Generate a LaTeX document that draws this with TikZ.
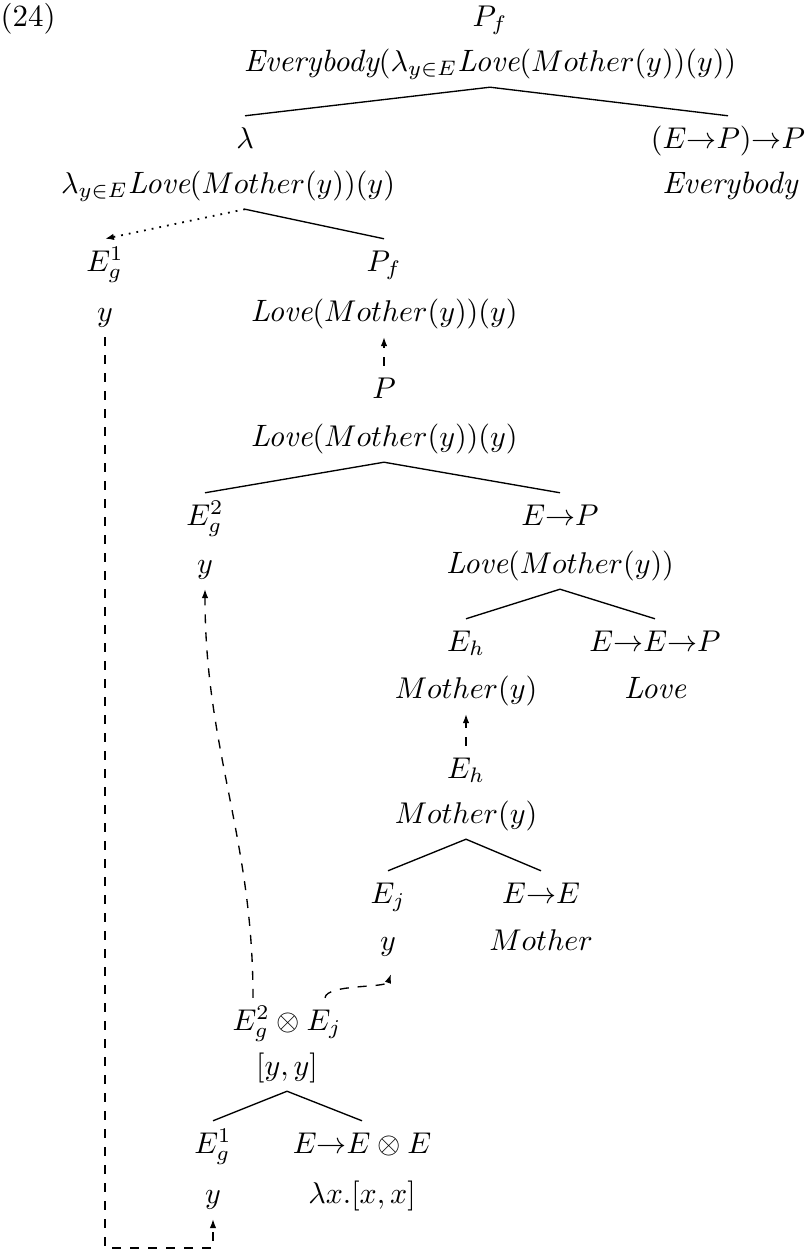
\documentclass[tikz,border=0pt]{standalone}
\usetikzlibrary{arrows.meta,calc}
\newcommand\Lv{\textit{Love}}
\newcommand\Eb{\textit{Everybody}}
\begin{document}
\begin{tikzpicture}[x=0.3333pt,y=0.3333pt,
  font=\fontsize{10.3}{12}\selectfont,
  lab/.style={inner xsep=0pt,inner ysep=4.3pt,outer sep=0pt,text height=1.5ex,text depth=.25ex},
  branch/.style={line width=0.45pt},
  tip/.style={-{Latex[length=3pt,width=2.2pt]}},
  dashline/.style={dashed,line width=0.45pt,tip},
  dotline/.style={dotted,line width=0.6pt,tip}]
\useasboundingbox (0,0) rectangle (809,-1254);
\node[anchor=west,inner sep=0pt,text height=1.5ex,text depth=.25ex] (num) at (0,-18) {(24)};
% top
\node[lab] (n1) at (490,-18) {$P_f$};
\node[lab] (n1t) at (490,-63) {$\Eb(\lambda_{y\in E}\Lv(Mother(y))(y))$};
\node[lab] (n2) at (245,-140) {$\lambda$};
\node[lab] (n2t) at (228,-185) {$\lambda_{y\in E}\Lv(Mother(y))(y)$};
\node[lab] (n3) at (728,-140) {$(E{\to}P){\to}P$};
\node[lab] (n3t) at (730,-185) {$\Eb$};
\node[lab] (n4) at (105,-263) {$E^1_g$};
\node[lab] (n4t) at (105,-313) {$y$};
\node[lab] (n5) at (384,-263) {$P_f$};
\node[lab] (n5t) at (384,-313) {$\Lv(Mother(y))(y)$};
\node[lab] (n6) at (384,-390) {$P$};
\node[lab] (n6t) at (384,-438) {$\Lv(Mother(y))(y)$};
\node[lab] (n7) at (205,-517) {$E^2_g$};
\node[lab] (n7t) at (205,-565) {$y$};
\node[lab] (n8) at (560,-517) {$E{\to}P$};
\node[lab] (n8t) at (560,-565) {$\Lv(Mother(y))$};
\node[lab] (n9) at (466,-643) {$E_h$};
\node[lab] (n9t) at (466,-690) {$Mother(y)$};
\node[lab] (n10) at (655,-643) {$E{\to}E{\to}P$};
\node[lab] (n10t) at (655,-690) {$\Lv$};
\node[lab] (n11) at (466,-770) {$E_h$};
\node[lab] (n11t) at (466,-815) {$Mother(y)$};
\node[lab] (n12) at (388,-895) {$E_j$};
\node[lab] (n12t) at (388,-942) {$y$};
\node[lab] (n13) at (541,-895) {$E{\to}E$};
\node[lab] (n13t) at (541,-942) {$Mother$};
\node[lab] (n14) at (287,-1022) {$E^2_g\otimes E_j$};
\node[lab] (n14t) at (287,-1067) {$[y,y]$};
\node[lab] (n15) at (213,-1145) {$E^1_g$};
\node[lab] (n15t) at (213,-1195) {$y$};
\node[lab] (n16) at (362,-1145) {$E{\to}E\otimes E$};
\node[lab] (n16t) at (362,-1195) {$\lambda x.[x,x]$};
% branches
\draw[branch] (n3.north) -- (n1t.south) -- (n2.north);
\draw[branch] (n2 |- n2t.south) -- (n5.north);
\draw[dotline] (n2 |- n2t.south) -- (n4.north);
\draw[branch] (n7.north) -- (n6t.south) -- (n8.north);
\draw[branch] (n9.north) -- (n8t.south) -- (n10.north);
\draw[branch] (n12.north) -- (n11t.south) -- (n13.north);
\draw[branch] (n15.north) -- (n14t.south) -- (n16.north);
% dashed arrows
\draw[dashline] (n6.north) -- (n5t.south);
\draw[dashline] (n11.north) -- (n9t.south);
\coordinate (s1) at ($(n14.north)+(-34,0)$);
\draw[dashline] (s1) to[out=90,in=-90] (n7t.south);
\coordinate (s2) at ($(n14.north)+(38,0)$);
\coordinate (t2) at ($(n12t.south)+(3,-8)$);
\draw[dashline] (s2) .. controls ($(s2)+(2,14)$) and ($(t2)+(-5,-14)$) .. (t2);
\coordinate (corner) at (105,-1248);
\draw[dashline] (n4t.south) -- (corner) -| (n15t.south);
\end{tikzpicture}
\end{document}
